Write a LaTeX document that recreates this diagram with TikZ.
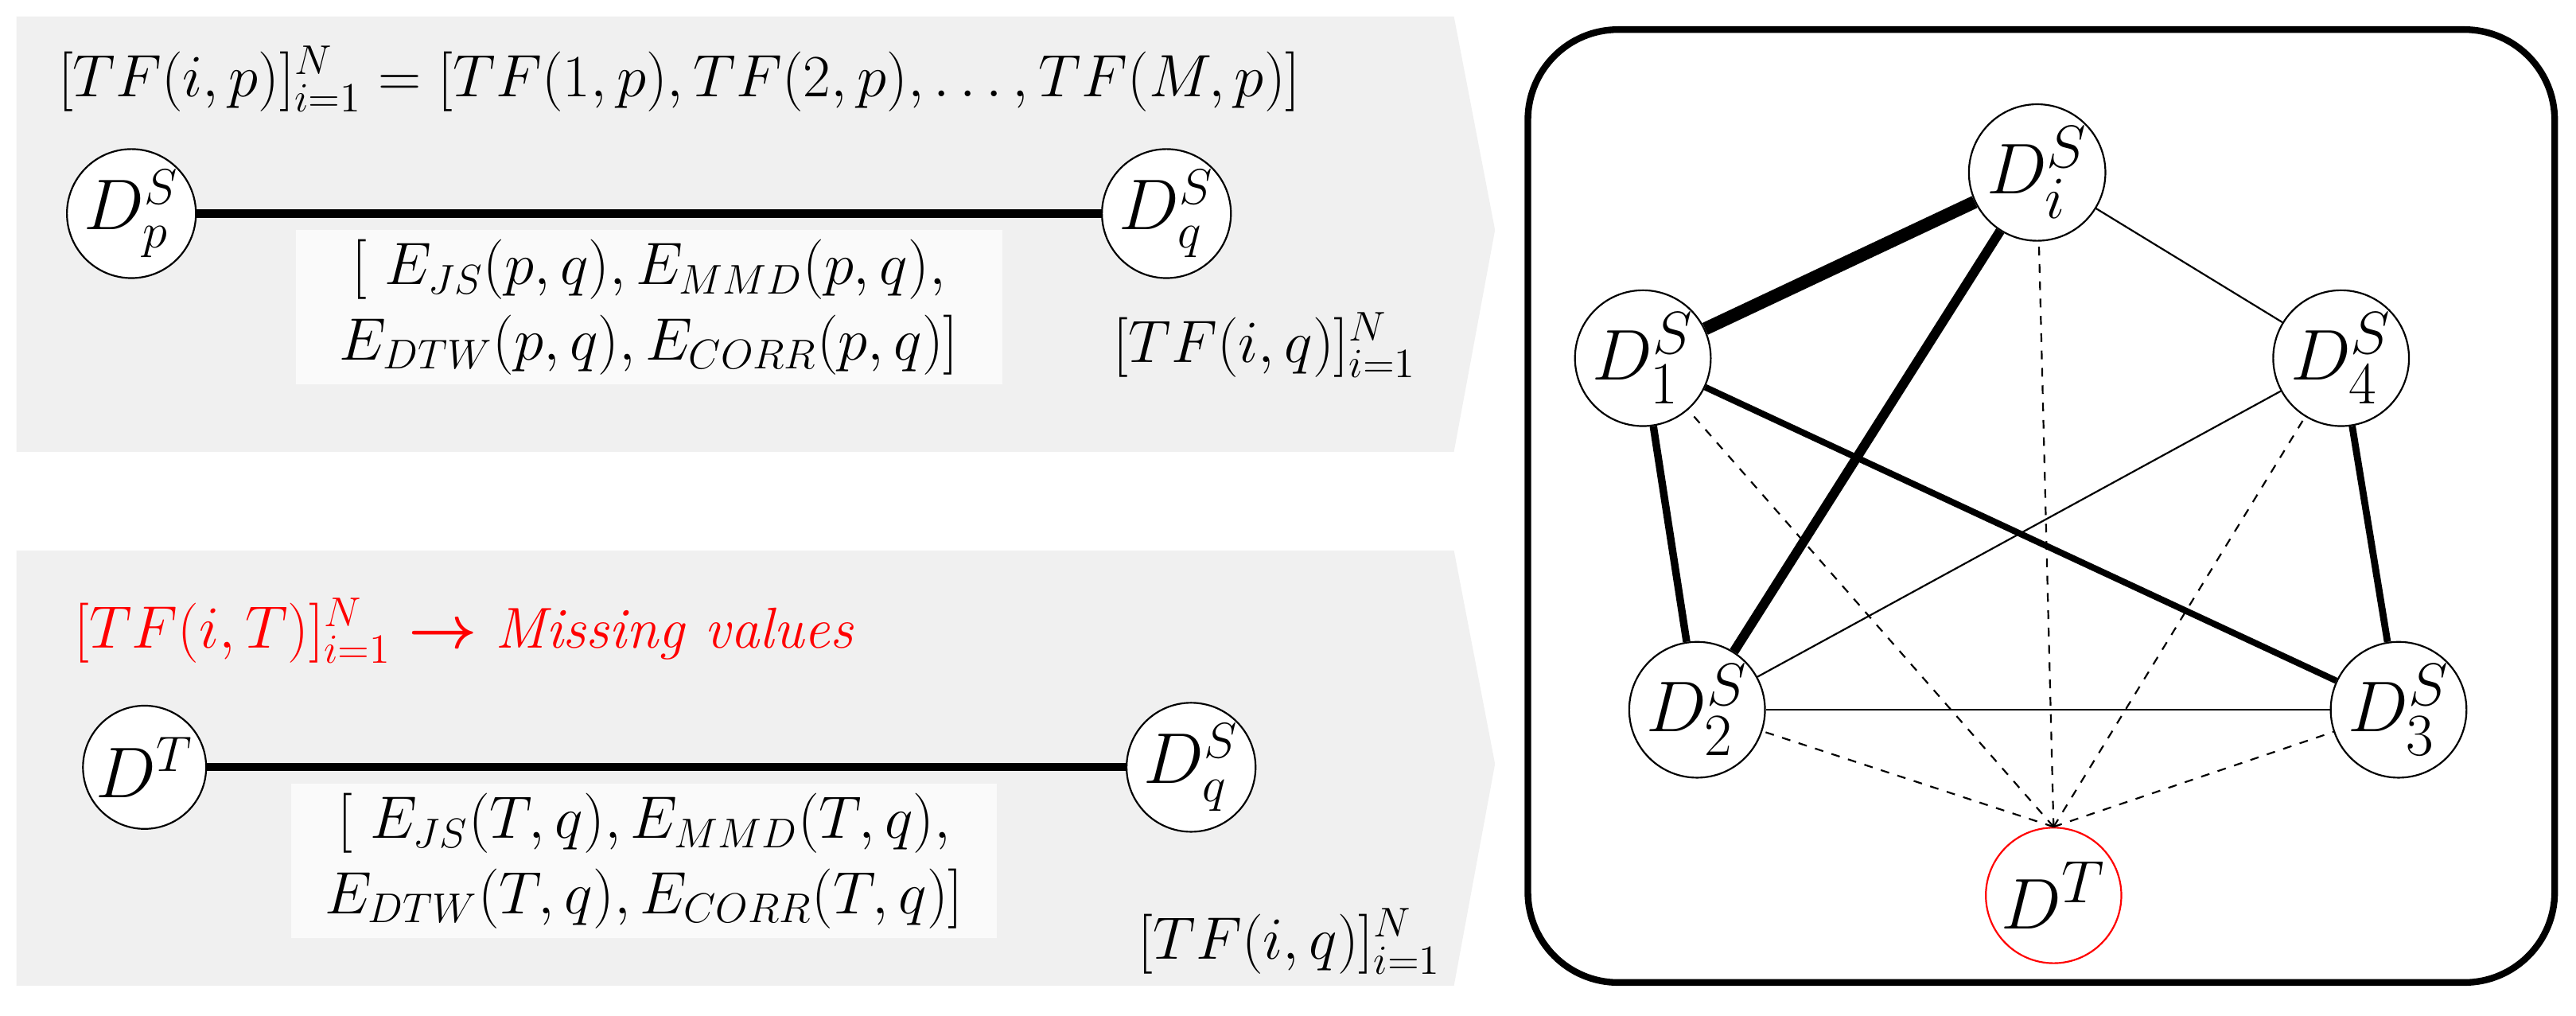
\documentclass[tikz,border=0pt]{standalone}
\usepackage{amsmath}
\tikzset{
  every node/.style={text=black},
  panel/.style={fill=black!6, draw=none},
  lblbox/.style={fill=black!2, draw=none, minimum width=8.6cm, minimum height=1.85cm, align=center, font=\fontsize{20}{26}\selectfont},
  snode/.style={circle, draw=black, line width=0.6pt, fill=white, minimum width=1.5cm, inner sep=0pt, font=\fontsize{23}{26}\selectfont},
  gnode/.style={circle, draw=black, line width=0.6pt, fill=white, minimum width=1.6cm, inner sep=0pt, font=\fontsize{28}{30}\selectfont},
  formula/.style={font=\fontsize{20}{24}\selectfont, inner sep=0pt},
  link/.style={draw=black, line width=2.8pt},
  weak/.style={draw=black, line width=0.6pt},
  guess/.style={draw=black, line width=0.6pt, dashed}
}

\begin{document}
\begin{tikzpicture}[x=0.02cm, y=-0.02cm]
  \useasboundingbox (0,0) rectangle (1568,618);
  % Panels
  \fill[panel] (10,10) -- (885,10) -- (910,140) -- (885,275) -- (10,275) -- cycle;
  \fill[panel] (10,335) -- (885,335) -- (910,465) -- (885,600) -- (10,600) -- cycle;

  % Upper pair
  \node (tfp) [formula, anchor=west] at (35,48) {$[TF(i,p)]_{i=1}^{N} = [TF(1,p), TF(2,p),\ldots, TF(M,p)]$};
  \node (dp) [snode] at (80,130) {$D_p^S$};
  \node (dq) [snode] at (710,130) {$D_q^S$};
  \draw[link] (dp) -- (dq);
  \node (epq) [lblbox] at (395,187) {$[\ E_{JS}(p,q), E_{MMD}(p,q),$\\ $E_{DTW}(p,q), E_{CORR}(p,q)]$};
  \node (tfq) [formula] at (770,210) {$[TF(i,q)]_{i=1}^{N}$};

  % Lower pair
  \node (tft) [formula, anchor=west, text=red] at (45,384) {$[TF(i,T)]_{i=1}^{N}$ $\boldsymbol{\rightarrow}$ \textit{Missing values}};
  \node (dt) [snode] at (88,467) {$D^T$};
  \node (dq2) [snode] at (725,467) {$D_q^S$};
  \draw[link] (dt) -- (dq2);
  \node (etq) [lblbox] at (392,524) {$[\ E_{JS}(T,q), E_{MMD}(T,q),$\\ $E_{DTW}(T,q), E_{CORR}(T,q)]$};
  \node (tfq2) [formula] at (785,573) {$[TF(i,q)]_{i=1}^{N}$};

  % Graph
  \draw[line width=2.3pt, rounded corners=1.1cm] (930,18) rectangle (1555,598);
  \node (di) [gnode] at (1240,105) {$D_i^S$};
  \node (d1) [gnode] at (1000,218) {$D_1^S$};
  \node (d4) [gnode] at (1425,218) {$D_4^S$};
  \node (d2) [gnode] at (1033,432) {$D_2^S$};
  \node (d3) [gnode] at (1460,432) {$D_3^S$};
  \node (dtg) [gnode, draw=red, minimum width=1.65cm] at (1250,545) {$D^T$};

  \draw[guess] (dtg.north) -- (di);
  \draw[guess] (dtg.north) -- (d1);
  \draw[guess] (dtg.north) -- (d4);
  \draw[guess] (dtg.north) -- (d2);
  \draw[guess] (dtg.north) -- (d3);
  \draw[weak] (di) -- (d4);
  \draw[weak] (d4) -- (d2);
  \draw[weak] (d2) -- (d3);
  \draw[draw=black, line width=4.5pt] (di) -- (d1);
  \draw[draw=black, line width=3.3pt] (di) -- (d2);
  \draw[draw=black, line width=2.6pt] (d1) -- (d2);
  \draw[draw=black, line width=2.2pt] (d1) -- (d3);
  \draw[draw=black, line width=2.4pt] (d4) -- (d3);
\end{tikzpicture}
\end{document}
